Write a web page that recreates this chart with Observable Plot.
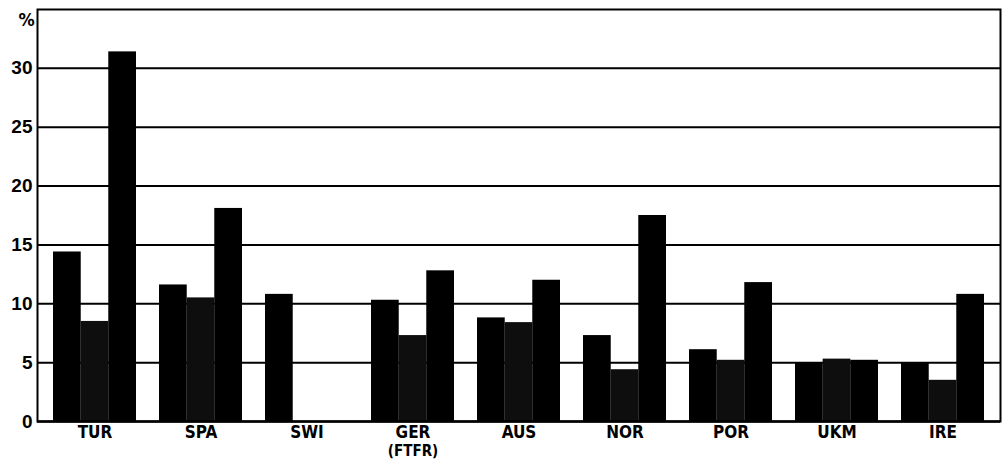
<!DOCTYPE html>
<html>
<head>
<meta charset="utf-8">
<script src="https://cdn.jsdelivr.net/npm/d3@7"></script>
<script src="https://cdn.jsdelivr.net/npm/@observablehq/plot@0.6"></script>
<style>
  html, body { margin: 0; padding: 0; background: #fff; }
  #chart svg text { font-weight: bold; }
</style>
</head>
<body>
<div id="chart"></div>
<script>
const countries = ["TUR", "SPA", "SWI", "GER", "AUS", "NOR", "POR", "UKM", "IRE"];
const countrySubLabels = ["", "", "", "(FTFR)", "", "", "", "", ""];
const series1 = [14.4, 11.6, 10.8, 10.3, 8.8, 7.3, 6.1, 5.0, 5.0];
const series2 = [8.5, 10.5, null, 7.3, 8.4, 4.4, 5.2, 5.3, 3.5];
const series3 = [31.4, 18.1, null, 12.8, 12.0, 17.5, 11.8, 5.2, 10.8];
const yTicks = [0, 5, 10, 15, 20, 25, 30];
const gridValues = [5, 10, 15, 20, 25, 30];
const yUnit = "%";

const W = 1002, H = 466;
const mL = 37, mR = 2, mT = 9, mB = 45;
const padIn = 0.22, padOut = 0.14;
const band = d3.scaleBand(countries, [mL, W - mR]).paddingInner(padIn).paddingOuter(padOut);
const third = band.bandwidth() / 3;

const rows = (vals) => countries.map((c, i) => ({country: c, value: vals[i]})).filter(d => d.value != null);
const subRows = countries.map((c, i) => ({country: c, sub: countrySubLabels[i]})).filter(d => d.sub);

const font = "'Liberation Sans Narrow', 'DejaVu Sans Condensed', 'Liberation Sans', sans-serif";

const chart = Plot.plot({
  width: W,
  height: H,
  marginLeft: mL,
  marginRight: mR,
  marginTop: mT,
  marginBottom: mB,
  style: {fontSize: "19px", fontFamily: "'Liberation Sans', Arial, sans-serif", color: "black", background: "white"},
  x: {domain: countries, paddingInner: padIn, paddingOuter: padOut, axis: null},
  y: {domain: [0, 35], ticks: yTicks, tickSize: 0, tickPadding: 5, label: null},
  marks: [
    Plot.ruleY(gridValues, {stroke: "black", strokeWidth: 2}),
    Plot.barY(rows(series1), {x: "country", y: "value", fill: "#000", insetLeft: 0, insetRight: 2 * third}),
    Plot.barY(rows(series2), {x: "country", y: "value", fill: "#0e0e0e", insetLeft: third, insetRight: third}),
    Plot.barY(rows(series3), {x: "country", y: "value", fill: "#000", insetLeft: 2 * third, insetRight: 0}),
    Plot.frame({stroke: "black", strokeWidth: 2}),
    Plot.ruleY([0], {stroke: "black", strokeWidth: 2.5}),
    Plot.text(countries, {x: d => d, text: d => d, frameAnchor: "bottom", lineAnchor: "top", dy: 4, fontSize: 17, fontFamily: font, fill: "black"}),
    Plot.text(subRows, {x: "country", text: "sub", frameAnchor: "bottom", lineAnchor: "top", dy: 24, fontSize: 15, fontFamily: font, fill: "black"}),
    Plot.text([yUnit], {text: d => d, frameAnchor: "top-left", dx: -19, dy: 4, fontSize: 18, fontFamily: font, fill: "black"})
  ]
});
document.getElementById("chart").appendChild(chart);
</script>
</body>
</html>
